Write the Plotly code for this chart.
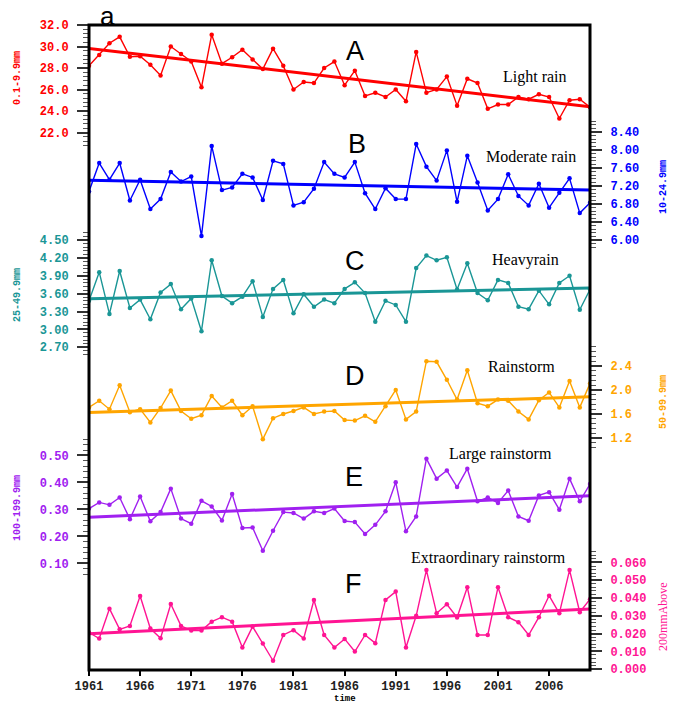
import numpy as np
import plotly.graph_objects as go

years = list(range(1961, 2011))

light_rain = [28.2, 29.2, 30.3, 30.9, 29.05, 29.1, 28.3, 27.3, 30.0, 29.3,
              28.6, 26.2, 31.1, 28.4, 29.0, 29.7, 28.8, 27.9, 29.8, 28.2,
              26.0, 26.7, 26.6, 28.0, 28.6, 26.4, 27.75, 25.4, 25.7, 25.3,
              26.0, 24.9, 29.5, 25.7, 26.0, 27.2, 24.5, 27.0, 26.6, 24.2,
              24.6, 24.6, 25.3, 25.1, 25.55, 25.3, 23.3, 25.0, 25.1, 24.35]

moderate_rain = [7.08, 7.71, 7.34, 7.71, 6.88, 7.34, 6.69, 6.91, 7.51, 7.30,
                 7.41, 6.09, 8.09, 7.11, 7.17, 7.47, 7.39, 6.89, 7.76, 7.69,
                 6.77, 6.84, 7.14, 7.73, 7.47, 7.39, 7.73, 7.04, 6.69, 7.15,
                 6.91, 6.91, 8.13, 7.63, 7.32, 7.99, 6.85, 7.87, 7.28, 6.66,
                 6.91, 7.46, 6.98, 6.77, 7.25, 6.72, 7.05, 7.37, 6.60, 6.83]

heavy_rain = [3.48, 3.96, 3.26, 3.98, 3.36, 3.50, 3.17, 3.62, 3.76, 3.34,
              3.52, 2.97, 4.16, 3.56, 3.44, 3.55, 3.81, 3.21, 3.68, 3.83,
              3.27, 3.59, 3.38, 3.50, 3.44, 3.68, 3.79, 3.61, 3.13, 3.48,
              3.41, 3.13, 4.03, 4.24, 4.16, 4.21, 3.67, 4.11, 3.61, 3.49,
              3.83, 3.78, 3.38, 3.34, 3.65, 3.42, 3.78, 3.90, 3.33, 3.67]

rainstorm = [1.71, 1.82, 1.68, 2.08, 1.63, 1.68, 1.46, 1.70, 1.99, 1.65,
             1.52, 1.58, 1.90, 1.71, 1.82, 1.58, 1.73, 1.18, 1.53, 1.60,
             1.65, 1.71, 1.60, 1.64, 1.65, 1.50, 1.49, 1.57, 1.47, 1.73,
             2.00, 1.51, 1.64, 2.48, 2.47, 2.17, 1.84, 2.33, 1.78, 1.73,
             1.84, 1.82, 1.64, 1.51, 1.83, 1.96, 1.71, 2.15, 1.71, 2.11]

large_rainstorm = [0.303, 0.326, 0.317, 0.344, 0.264, 0.348, 0.256, 0.290, 0.377, 0.266,
                   0.247, 0.332, 0.311, 0.259, 0.357, 0.231, 0.233, 0.147, 0.221, 0.290,
                   0.287, 0.266, 0.293, 0.287, 0.303, 0.257, 0.253, 0.209, 0.243, 0.293,
                   0.401, 0.219, 0.274, 0.488, 0.414, 0.444, 0.383, 0.451, 0.330, 0.344,
                   0.324, 0.370, 0.274, 0.258, 0.352, 0.364, 0.299, 0.414, 0.330, 0.394]

extra_rainstorm = [0.0206, 0.0172, 0.0340, 0.0224, 0.0243, 0.0411, 0.0228, 0.0174, 0.0366, 0.0243,
                   0.0217, 0.0217, 0.0267, 0.0292, 0.0267, 0.0122, 0.0239, 0.0144, 0.0047, 0.0192,
                   0.0219, 0.0172, 0.0389, 0.0192, 0.0122, 0.0170, 0.0099, 0.0192, 0.0146, 0.0389,
                   0.0436, 0.0122, 0.0300, 0.0557, 0.0314, 0.0365, 0.0290, 0.0460, 0.0192, 0.0192,
                   0.0460, 0.0292, 0.0264, 0.0192, 0.0292, 0.0413, 0.0314, 0.0557, 0.0320, 0.0393]

x_ticks = [1961, 1966, 1971, 1976, 1981, 1986, 1991, 1996, 2001, 2006]

# figure geometry (pixels)
W, H = 679, 706
L, R, T, B = 89, 89, 25, 36
PW, PH = W - L - R, H - T - B


def px(xp):
    return (xp - L) / PW


def py(yp):
    return (H - B - yp) / PH


panels = [
    dict(name="A", label="Light rain", data=light_rain, color="#ff0000", side="left",
         rng=[-28, 32], ticks=[22, 24, 26, 28, 30, 32], fmt="{:.1f}", minor=(20.8, 32.0, 0.4),
         title="0.1-9.9mm", title_pos=(17, 78), letter_pos=(355, 51), label_pos=(535, 77)),
    dict(name="B", label="Moderate rain", data=moderate_rain, color="#0000ff", side="right",
         rng=[-3.53, 10.77], ticks=[6.0, 6.4, 6.8, 7.2, 7.6, 8.0, 8.4], fmt="{:.2f}",
         minor=(5.84, 8.64, 0.08),
         title="10-24.9mm", title_pos=(663, 187), letter_pos=(357, 144), label_pos=(531, 156)),
    dict(name="C", label="Heavyrain", data=heavy_rain, color="#1a9696", side="left",
         rng=[-2.714, 8.107], ticks=[2.7, 3.0, 3.3, 3.6, 3.9, 4.2, 4.5], fmt="{:.2f}",
         minor=(2.58, 4.62, 0.06),
         title="25-49.9mm", title_pos=(17, 295), letter_pos=(355, 261), label_pos=(525, 260)),
    dict(name="D", label="Rainstorm", data=rainstorm, color="#ffa500", side="right",
         rng=[-2.667, 8.083], ticks=[1.2, 1.6, 2.0, 2.4], fmt="{:.1f}",
         minor=(1.04, 2.76, 0.08),
         title="50-99.9mm", title_pos=(663, 402), letter_pos=(355, 376), label_pos=(521, 366)),
    dict(name="E", label="Large rainstorm", data=large_rainstorm, color="#a020f0", side="left",
         rng=[-0.295, 2.095], ticks=[0.1, 0.2, 0.3, 0.4, 0.5], fmt="{:.2f}",
         minor=(0.06, 0.56, 0.02),
         title="100-199.9mm", title_pos=(17, 508), letter_pos=(354, 477), label_pos=(500, 454)),
    dict(name="F", label="Extraordinary rainstorm", data=extra_rainstorm, color="#ff1493", side="right",
         rng=[-0.0005, 0.3623], ticks=[0.0, 0.01, 0.02, 0.03, 0.04, 0.05, 0.06], fmt="{:.3f}",
         minor=(0.0, 0.066, 0.002),
         title="200mmAbove", title_pos=(663, 617), letter_pos=(353, 584), label_pos=(488, 558)),
]

fig = go.Figure()
annotations = []
xs = np.array(years, dtype=float)

for i, p in enumerate(panels):
    axname = "y" if i == 0 else f"y{i + 1}"
    layout_key = "yaxis" if i == 0 else f"yaxis{i + 1}"
    ys = np.array(p["data"], dtype=float)
    slope, icpt = np.polyfit(xs, ys, 1)
    trend = slope * xs + icpt

    fig.add_trace(go.Scatter(x=years, y=p["data"], mode="lines+markers", yaxis=axname,
                             line=dict(color=p["color"], width=1.4),
                             marker=dict(color=p["color"], size=4.5), showlegend=False))
    fig.add_trace(go.Scatter(x=[years[0], years[-1]], y=[trend[0], trend[-1]], mode="lines",
                             yaxis=axname, line=dict(color=p["color"], width=3),
                             showlegend=False))

    lo, hi, st = p["minor"]
    n = int(round((hi - lo) / st))
    minor_vals = [round(lo + k * st, 6) for k in range(n + 1)]
    minor_vals = [m for m in minor_vals if all(abs(m - t) > st / 4 for t in p["ticks"])]

    ax = dict(range=p["rng"], domain=[0, 1], side=p["side"], anchor="x",
              showgrid=False, zeroline=False, showline=False,
              tickmode="array", tickvals=p["ticks"],
              ticktext=[p["fmt"].format(t) for t in p["ticks"]],
              ticks="outside", ticklen=11, tickwidth=1.5, tickcolor="#333333",
              ticklabelstandoff=6,
              tickfont=dict(family="Liberation Mono", size=12, color=p["color"], weight="bold"),
              minor=dict(tickmode="array", tickvals=minor_vals, ticks="outside",
                         ticklen=5, tickwidth=1, tickcolor="#555555"))
    if i > 0:
        ax["overlaying"] = "y"
    fig.update_layout(**{layout_key: ax})

    # panel letter
    annotations.append(dict(x=px(p["letter_pos"][0]), y=py(p["letter_pos"][1]), xref="paper", yref="paper",
                            text=p["name"], showarrow=False, xanchor="center", yanchor="middle",
                            font=dict(family="Liberation Sans", size=27, color="black")))
    # series label
    annotations.append(dict(x=px(p["label_pos"][0]), y=py(p["label_pos"][1]), xref="paper", yref="paper",
                            text=p["label"], showarrow=False, xanchor="center", yanchor="middle",
                            font=dict(family="Liberation Serif", size=16, color="black")))
    # axis title
    if p["name"] == "F":
        tfont = dict(family="Liberation Serif", size=12, color=p["color"])
    else:
        tfont = dict(family="Liberation Mono", size=10, color=p["color"], weight="bold")
    annotations.append(dict(x=px(p["title_pos"][0]), y=py(p["title_pos"][1]), xref="paper", yref="paper",
                            text=p["title"], showarrow=False, textangle=-90,
                            xanchor="center", yanchor="middle", font=tfont))

annotations.append(dict(x=px(107), y=py(16), xref="paper", yref="paper", text="a", showarrow=False,
                        xanchor="center", yanchor="middle",
                        font=dict(family="Liberation Sans", size=26, color="black")))
annotations.append(dict(x=px(345), y=py(699), xref="paper", yref="paper", text="time", showarrow=False,
                        xanchor="center", yanchor="middle",
                        font=dict(family="Liberation Mono", size=9, color="black", weight="bold")))

fig.update_layout(
    width=W, height=H,
    margin=dict(l=L, r=R, t=T, b=B, pad=0),
    paper_bgcolor="white", plot_bgcolor="white",
    xaxis=dict(range=[1961, 2010], tickmode="array", tickvals=x_ticks,
               ticks="outside", ticklen=5, tickwidth=2, tickcolor="black",
               showgrid=False, zeroline=False, showline=False,
               tickfont=dict(family="Liberation Mono", size=12, color="#222222", weight="bold")),
    annotations=annotations,
    shapes=[dict(type="rect", xref="paper", yref="paper", x0=0, y0=0, x1=1, y1=1,
                 line=dict(color="black", width=3), layer="above")],
)

fig.write_html("out.html")
